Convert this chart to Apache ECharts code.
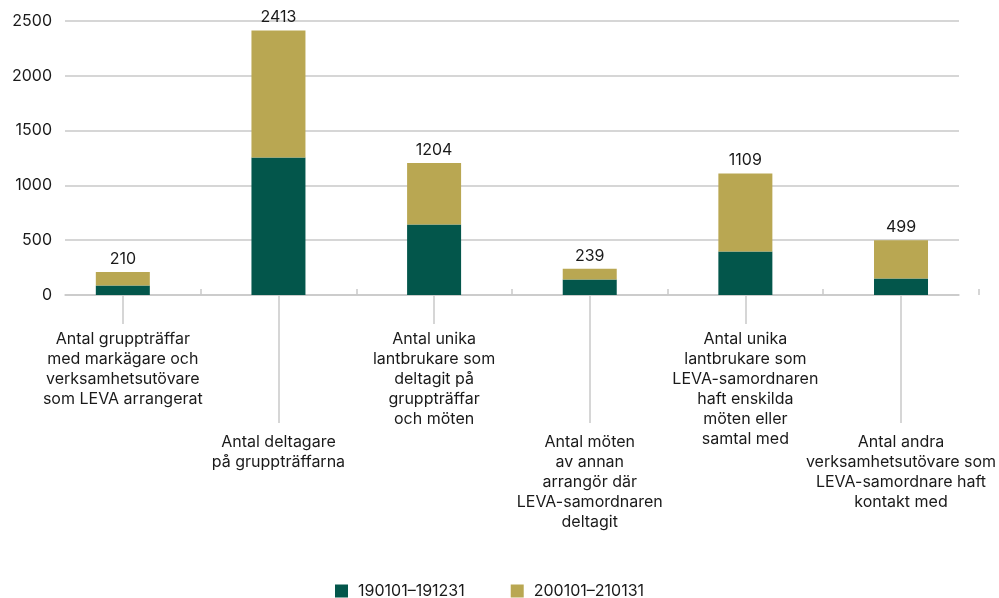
<!DOCTYPE html>
<html>
<head>
<meta charset="utf-8">
<script src="https://cdn.jsdelivr.net/npm/echarts@6/dist/echarts.min.js"></script>
<style>
  html, body { margin: 0; padding: 0; background: #fff; }
  #chart { width: 999px; height: 598px; }
</style>
</head>
<body>
<div id="chart"></div>
<script>
// kategorier (radbrytningar som i originalet)
const categories = [
  'Antal gruppträffar\nmed markägare och\nverksamhetsutövare\nsom LEVA arrangerat',
  'Antal deltagare\npå gruppträffarna',
  'Antal unika\nlantbrukare som\ndeltagit på\ngruppträffar\noch möten',
  'Antal möten\nav annan\narrangör där\nLEVA-samordnaren\ndeltagit',
  'Antal unika\nlantbrukare som\nLEVA-samordnaren\nhaft enskilda\nmöten eller\nsamtal med',
  'Antal andra\nverksamhetsutövare som\nLEVA-samordnare haft\nkontakt med'
];
const seriesNames = ['190101–191231', '200101–210131'];
const period1 = [87, 1254, 643, 141, 397, 150];
const period2 = [123, 1159, 561, 98, 712, 349];
const yTicks = [0, 500, 1000, 1500, 2000, 2500];

const green = '#03564b';
const gold = '#b9a752';
const grey = '#c9c9c9';
const textColor = '#1a1a1a';
const font = 'Inter';
const fs = 16;

const totals = period1.map((v, i) => v + period2[i]);

const chart = echarts.init(document.getElementById('chart'));

const option = {
  animation: false,
  textStyle: { fontFamily: font },
  legend: {
    top: 578,
    left: 330,
    itemWidth: 13,
    itemHeight: 13,
    itemGap: 46,
    icon: 'rect',
    textStyle: { fontSize: fs, color: textColor, fontFamily: font, padding: [0, 0, 0, 5] },
    data: seriesNames
  },
  grid: [
    { left: 65, right: 40, top: 21, bottom: 303 },
    { left: 45, right: 19, top: 21, bottom: 303 }
  ],
  xAxis: [
    {
      // bara axellinjen
      gridIndex: 0, type: 'category', data: categories, position: 'bottom',
      axisLine: { lineStyle: { color: grey, width: 1.5 } },
      axisTick: { show: false }, axisLabel: { show: false }
    },
    {
      // små streck mellan kategorierna
      gridIndex: 1, type: 'category', data: categories, position: 'bottom',
      axisLine: { show: false },
      axisTick: { show: true, inside: true, length: 6, interval: (i) => i !== 0,
        lineStyle: { color: grey, width: 1.5 } },
      axisLabel: { show: false }
    },
    {
      // korta linjer + etiketter
      gridIndex: 1, type: 'category', data: categories, position: 'bottom',
      axisLine: { show: false },
      axisTick: { show: true, alignWithLabel: true, length: 29, interval: (i) => i % 2 === 0,
        lineStyle: { color: grey, width: 1.5 } },
      axisLabel: { interval: (i) => i % 2 === 0, margin: 34, fontSize: fs, lineHeight: 20,
        color: textColor, fontFamily: font }
    },
    {
      // långa linjer + etiketter
      gridIndex: 1, type: 'category', data: categories, position: 'bottom',
      axisLine: { show: false },
      axisTick: { show: true, alignWithLabel: true, length: 128, interval: (i) => i % 2 === 1,
        lineStyle: { color: grey, width: 1.5 } },
      axisLabel: { interval: (i) => i % 2 === 1, margin: 137, fontSize: fs, lineHeight: 20,
        color: textColor, fontFamily: font }
    }
  ],
  yAxis: [
    {
      gridIndex: 0, type: 'value', min: yTicks[0], max: yTicks[yTicks.length - 1], interval: 500,
      axisLine: { show: false }, axisTick: { show: false },
      axisLabel: { margin: 13, fontSize: fs, color: textColor, fontFamily: font,
        formatter: (v) => String(v) },
      splitLine: { lineStyle: { color: grey, width: 1.5 } }
    },
    {
      gridIndex: 1, type: 'value', min: yTicks[0], max: yTicks[yTicks.length - 1], interval: 500,
      show: false, splitLine: { show: false }
    }
  ],
  series: [
    {
      name: seriesNames[0], type: 'bar', stack: 'tot',
      xAxisIndex: 1, yAxisIndex: 1,
      barWidth: 54,
      itemStyle: { color: green },
      data: period1
    },
    {
      name: seriesNames[1], type: 'bar', stack: 'tot',
      xAxisIndex: 1, yAxisIndex: 1,
      barWidth: 54,
      itemStyle: { color: gold },
      label: {
        show: true, position: 'top', distance: 5,
        fontSize: fs, color: textColor, fontFamily: font,
        formatter: (p) => totals[p.dataIndex]
      },
      data: period2
    }
  ]
};

chart.setOption(option);
</script>
</body>
</html>
